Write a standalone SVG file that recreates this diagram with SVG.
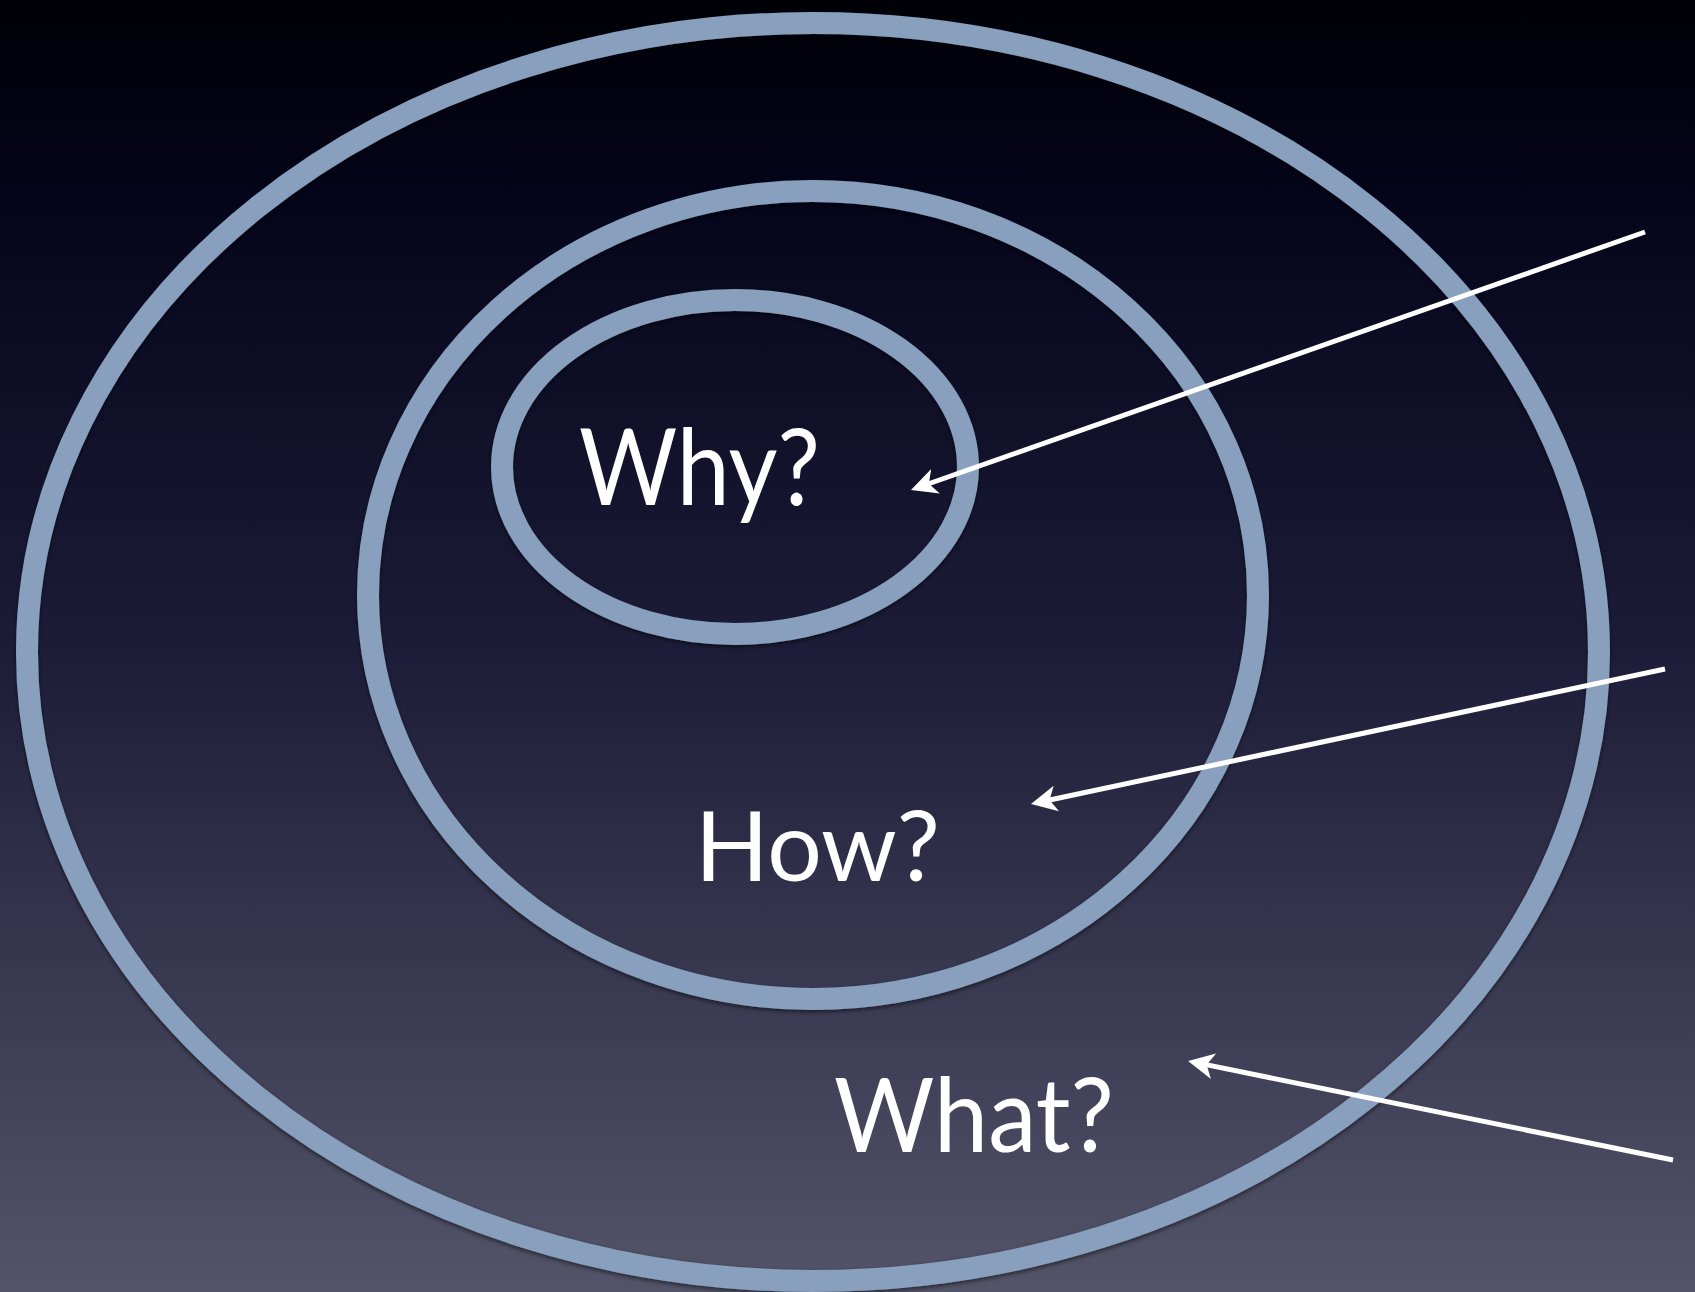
<svg xmlns="http://www.w3.org/2000/svg" width="1695" height="1292" viewBox="0 0 1695 1292">
  <defs>
    <linearGradient id="bg" x1="0" y1="0" x2="0" y2="1">
      <stop offset="0" stop-color="#000006"/>
      <stop offset="0.15" stop-color="#04041a"/>
      <stop offset="0.5" stop-color="#1c1c38"/>
      <stop offset="1" stop-color="#535369"/>
    </linearGradient>
    <filter id="sh" x="-5%" y="-5%" width="110%" height="110%">
      <feDropShadow dx="0" dy="2" stdDeviation="2" flood-color="#000" flood-opacity="0.55"/>
    </filter>
    <marker id="ah" markerUnits="userSpaceOnUse" markerWidth="28" markerHeight="30" viewBox="0 0 28 30" refX="14" refY="15" orient="auto">
      <path d="M26,15 L0,2 L7,15 L0,28 Z" fill="#ffffff"/>
    </marker>
    <style>
      .ring { fill: none; stroke: #88a0bd; stroke-width: 22; filter: url(#sh); }
      .lbl { fill: #ffffff; font-family: "Lato", "Open Sans", "Liberation Sans", sans-serif; }
      .conn { stroke: #ffffff; stroke-width: 5; fill: none; marker-end: url(#ah); }
    </style>
  </defs>
  <rect x="0" y="0" width="1695" height="1292" fill="url(#bg)"/>
  <g id="what">
    <ellipse class="ring" cx="813" cy="652" rx="786" ry="629"/>
    <text class="lbl" x="834" y="1152" font-size="102" textLength="280" lengthAdjust="spacingAndGlyphs">What?</text>
  </g>
  <g id="how">
    <ellipse class="ring" cx="813" cy="595" rx="445" ry="404"/>
    <text class="lbl" x="695" y="881" font-size="96" textLength="245" lengthAdjust="spacingAndGlyphs">How?</text>
  </g>
  <g id="why">
    <ellipse class="ring" cx="735" cy="467" rx="233" ry="167"/>
    <text class="lbl" x="579" y="505" font-size="106" textLength="241" lengthAdjust="spacingAndGlyphs">Why?</text>
  </g>
  <g id="connectors">
    <line class="conn" x1="1645" y1="232" x2="922.3" y2="486.0"/>
    <line class="conn" x1="1665" y1="669" x2="1042.7" y2="801.5"/>
    <line class="conn" x1="1673" y1="1160" x2="1199.8" y2="1063.4"/>
  </g>
</svg>
